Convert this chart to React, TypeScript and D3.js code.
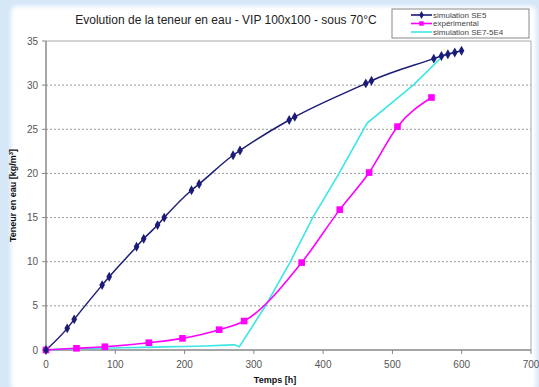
import React from "react";
import * as d3 from "d3";

const xTicks = [0, 100, 200, 300, 400, 500, 600, 700];
const yTicks = [0, 5, 10, 15, 20, 25, 30, 35];

const se5X = [0, 30.6, 40.7, 81, 91.2, 130.7, 141, 161, 170.6, 210, 221, 270, 280, 351, 359, 461.6, 469.8, 559.7, 570.7, 580, 590, 599.7];
const se5Y = [0, 2.45, 3.47, 7.35, 8.3, 11.7, 12.6, 14.15, 15.0, 18.1, 18.8, 22.06, 22.6, 26.05, 26.4, 30.2, 30.5, 33.0, 33.3, 33.5, 33.7, 33.9];

const expX = [0, 44, 85, 148.5, 197, 250, 286, 369, 424, 466.4, 507.3, 556.4];
const expY = [0, 0.19, 0.37, 0.83, 1.32, 2.3, 3.28, 9.9, 15.9, 20.1, 25.3, 28.6];

const se7X = [0, 20, 50, 80, 110, 140, 170, 200, 230, 260, 272, 279, 316, 352, 385, 423, 463.5, 530, 573, 592];
const se7Y = [0, 0.1, 0.15, 0.2, 0.25, 0.3, 0.35, 0.4, 0.45, 0.55, 0.6, 0.38, 4.9, 9.9, 15, 20, 25.7, 30, 33.3, 33.8];

const legendLabels = ["simulation SE5", "expérimental", "simulation SE7-5E4"];

const W = 539, H = 387;
const L = 46, R = 531, T = 41, B = 350;

export default function App() {
  const x = d3.scaleLinear().domain([0, 700]).range([L, R]);
  const y = d3.scaleLinear().domain([0, 35]).range([B, T]);
  const line = d3.line<[number, number]>().x(d => x(d[0])).y(d => y(d[1]));
  const smooth = d3.line<[number, number]>().x(d => x(d[0])).y(d => y(d[1])).curve(d3.curveMonotoneX);
  const se5 = se5X.map((v, i) => [v, se5Y[i]] as [number, number]);
  const exp = expX.map((v, i) => [v, expY[i]] as [number, number]);
  const se7 = se7X.map((v, i) => [v, se7Y[i]] as [number, number]);
  const diamond = d3.symbol().type(d3.symbolDiamond).size(28)()!;
  const square = d3.symbol().type(d3.symbolSquare).size(44)()!;
  const font = "'Liberation Sans', Arial, sans-serif";
  const navy = "#1c1c78";
  const mag = "#ff00ff";
  const cyan = "#3ce6e6";
  const legColors = [navy, mag, cyan];

  return (
    <svg width={W} height={H} style={{ position: "absolute", left: 0, top: 0 }} fontFamily={font}>
      <defs>
        <filter id="blur" x="-5%" y="-5%" width="110%" height="110%">
          <feGaussianBlur stdDeviation="2" />
        </filter>
      </defs>
      <rect x={0} y={0} width={W} height={H} fill="#d6e7f8" />
      <rect x={11} y={6} width={525} height={385} rx={6} fill="#ffffff" filter="url(#blur)" />
      {/* grid */}
      {yTicks.filter(t => t > 0 && t < 35).map(t => (
        <line key={t} x1={L} x2={R} y1={y(t)} y2={y(t)} stroke="#999" strokeWidth={1} strokeDasharray="2,2" />
      ))}
      {/* plot border */}
      <line x1={L} x2={R} y1={T} y2={T} stroke="#aaa" strokeWidth={1} />
      <line x1={R} x2={R} y1={T} y2={B} stroke="#aaa" strokeWidth={1} />
      {/* axes */}
      <line x1={L} x2={L} y1={T} y2={B} stroke="#888" strokeWidth={1.5} />
      <line x1={L} x2={R} y1={B} y2={B} stroke="#888" strokeWidth={1.5} />
      {yTicks.map(t => (
        <g key={t}>
          <line x1={L - 4} x2={L} y1={y(t)} y2={y(t)} stroke="#888" />
          <text x={L - 8} y={y(t) + 3.5} fontSize={10} fill="#555" textAnchor="end">{t}</text>
        </g>
      ))}
      {xTicks.map(t => (
        <g key={t}>
          <line x1={x(t)} x2={x(t)} y1={B} y2={B + 4} stroke="#888" />
          <text x={x(t)} y={B + 18} fontSize={10} fill="#555" textAnchor="middle">{t}</text>
        </g>
      ))}
      {/* series */}
      <path d={line(se7)!} fill="none" stroke={cyan} strokeWidth={1.6} />
      <path d={smooth(exp)!} fill="none" stroke={mag} strokeWidth={1.6} />
      <path d={smooth(se5)!} fill="none" stroke={navy} strokeWidth={1.5} />
      {exp.map((d, i) => (
        <path key={i} d={square} transform={`translate(${x(d[0])},${y(d[1])})`} fill={mag} />
      ))}
      {se5.map((d, i) => (
        <path key={i} d={diamond} transform={`translate(${x(d[0])},${y(d[1])})`} fill={navy} />
      ))}
      {/* title */}
      <text x={226} y={24} fontSize={12} fill="#222" textAnchor="middle">Evolution de la teneur en eau - VIP 100x100 - sous 70°C</text>
      {/* axis titles */}
      <text x={275} y={383} fontSize={9} fontWeight="bold" fill="#111" textAnchor="middle">Temps [h]</text>
      <text transform={`translate(16,${(T + B) / 2}) rotate(-90)`} fontSize={9} fontWeight="bold" fill="#111" textAnchor="middle">
        Teneur en eau [kg/m<tspan dy={-3} fontSize={6}>3</tspan><tspan dy={3}>]</tspan>
      </text>
      {/* legend */}
      <rect x={392} y={9} width={137} height={29} fill="#fff" stroke="#888" strokeWidth={1} />
      {legendLabels.map((lab, i) => {
        const ly = 15 + i * 8.5;
        return (
          <g key={lab}>
            <line x1={411} x2={432} y1={ly} y2={ly} stroke={legColors[i]} strokeWidth={1.6} />
            {i === 0 && <path d={d3.symbol().type(d3.symbolDiamond).size(18)()!} transform={`translate(421.5,${ly})`} fill={navy} />}
            {i === 1 && <path d={d3.symbol().type(d3.symbolSquare).size(20)()!} transform={`translate(421.5,${ly})`} fill={mag} />}
            <text x={433} y={ly + 2.8} fontSize={8} fill="#444">{lab}</text>
          </g>
        );
      })}
    </svg>
  );
}
